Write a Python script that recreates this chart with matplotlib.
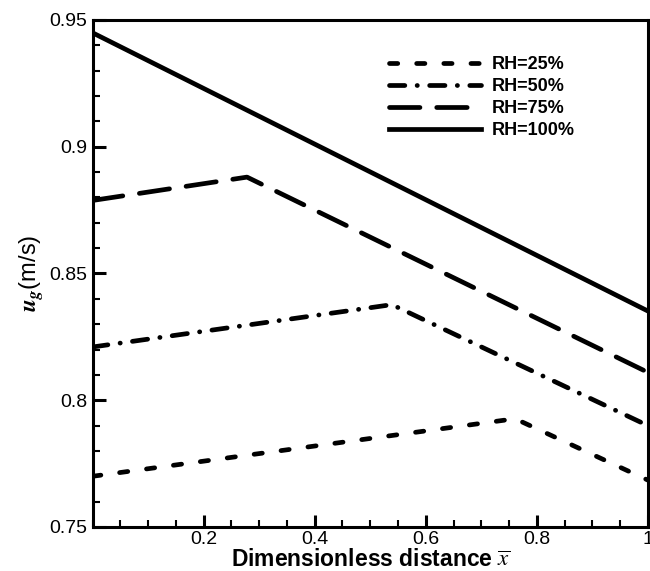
import matplotlib.pyplot as plt
from matplotlib.ticker import MultipleLocator, FixedLocator, FixedFormatter

# data
labels = ['RH=25%', 'RH=50%', 'RH=75%', 'RH=100%']
x_25 = [0.0, 0.761, 1.0]
y_25 = [0.7700, 0.7927, 0.7685]
x_50 = [0.0, 0.539, 1.0]
y_50 = [0.8210, 0.8377, 0.7900]
x_75 = [0.0, 0.278, 1.0]
y_75 = [0.8788, 0.8880, 0.8110]
x_100 = [0.0, 1.0]
y_100 = [0.9449, 0.8352]

xticks = [0.2, 0.4, 0.6, 0.8, 1.0]
xtick_labels = ['0.2', '0.4', '0.6', '0.8', '1']
yticks = [0.75, 0.8, 0.85, 0.9, 0.95]
ytick_labels = ['0.75', '0.8', '0.85', '0.9', '0.95']

plt.rcParams['font.family'] = ['Liberation Sans', 'DejaVu Sans']
plt.rcParams['mathtext.fontset'] = 'stix'

fig = plt.figure(figsize=(6.5, 5.71), dpi=100)
ax = fig.add_axes([0.1426, 0.0771, 0.854, 0.888])

lw = 3.4
ax.plot(x_25, y_25, color='black', lw=lw, dashes=(1.75, 4.0),
        dash_capstyle='round', label=labels[0])
ax.plot(x_50, y_50, color='black', lw=lw, dashes=(3.25, 2.6, 0.05, 2.6),
        dash_capstyle='round', label=labels[1])
ax.plot(x_75, y_75, color='black', lw=lw, dashes=(6.45, 3.55),
        dash_capstyle='round', label=labels[2])
ax.plot(x_100, y_100, color='black', lw=lw, label=labels[3])

ax.set_xlim(0, 1)
ax.set_ylim(0.75, 0.95)
ax.xaxis.set_major_locator(FixedLocator(xticks))
ax.xaxis.set_major_formatter(FixedFormatter(xtick_labels))
ax.xaxis.set_minor_locator(MultipleLocator(0.05))
ax.yaxis.set_major_locator(FixedLocator(yticks))
ax.yaxis.set_major_formatter(FixedFormatter(ytick_labels))
ax.yaxis.set_minor_locator(MultipleLocator(0.01))

ax.tick_params(which='both', direction='in', top=False, right=False, width=1.5)
ax.tick_params(which='major', length=9, width=2.2, labelsize=14, pad=4)
ax.tick_params(axis='x', which='major', pad=3)
ax.tick_params(which='minor', length=5)
for s in ax.spines.values():
    s.set_linewidth(2.2)

ax.set_xlabel(r'Dimensionless distance $\overline{x}$', fontsize=16.5, fontweight='bold', labelpad=0)
ax.set_ylabel(r'$\boldsymbol{u}_{\boldsymbol{g}}$(m/s)', fontsize=17, labelpad=2)

ax.legend(loc='upper right', bbox_to_anchor=(0.898, 0.96), frameon=False,
          handlelength=5.1, handletextpad=0.6, labelspacing=0.27,
          prop={'weight': 'bold', 'size': 13})

fig.savefig('out.png', dpi=100)
